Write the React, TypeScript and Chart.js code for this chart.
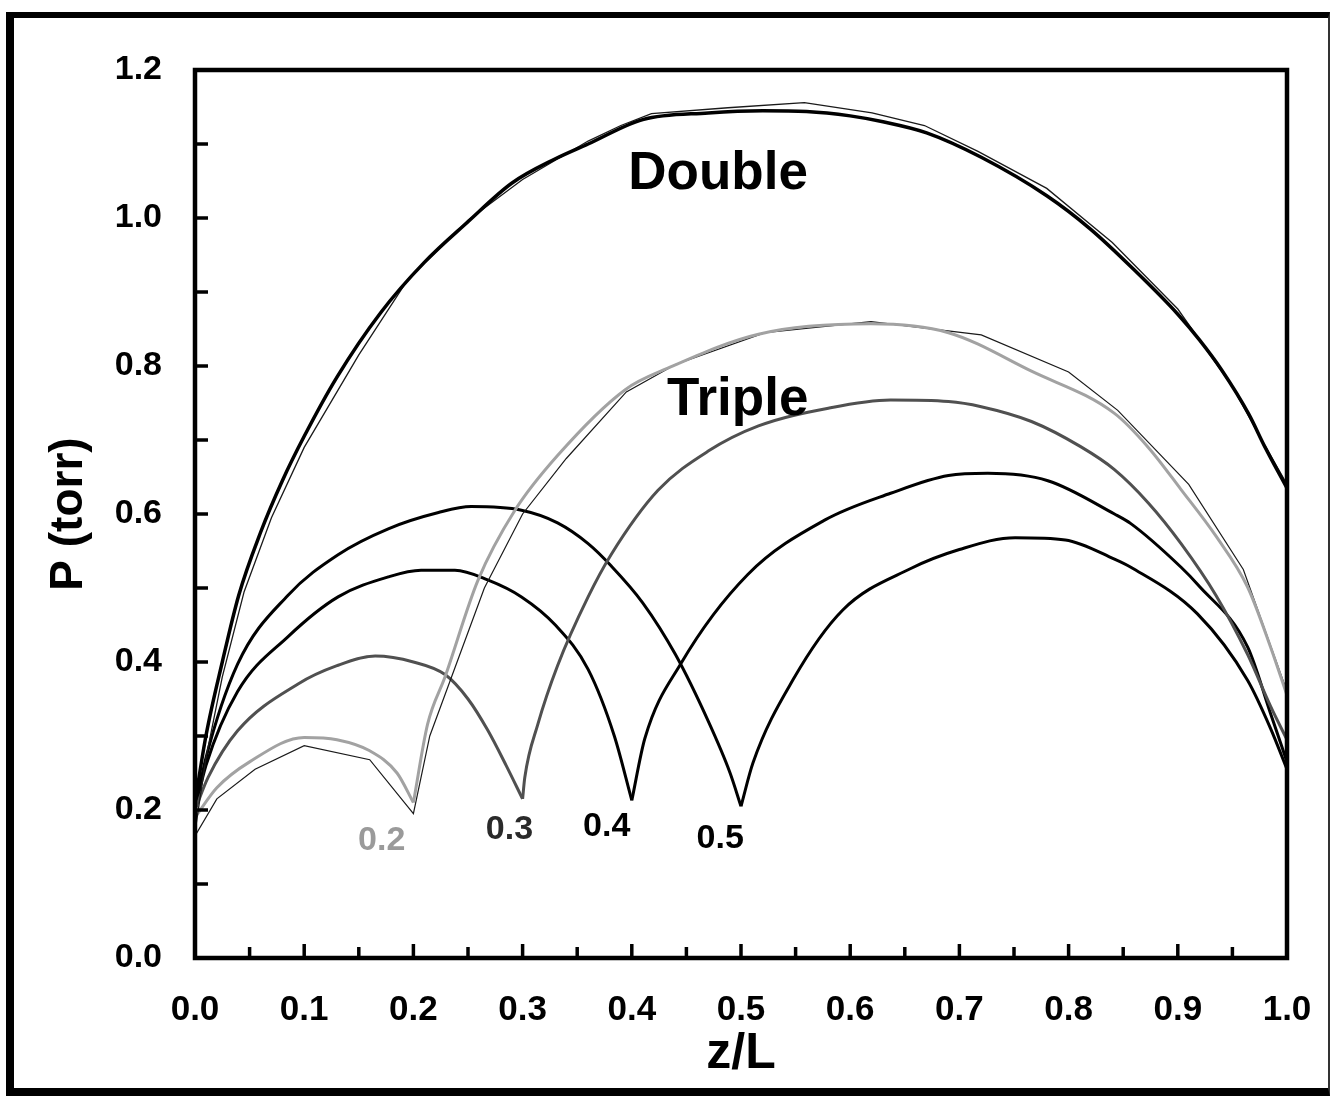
import React, { useEffect, useRef } from "react";
import { Chart, registerables } from "chart.js";

Chart.register(...registerables);

// ---------- data (z/L, P in torr) ----------
const doubleThickZ = [0, 0.01, 0.025, 0.04, 0.06, 0.08, 0.1, 0.13, 0.17, 0.21, 0.25, 0.29, 0.33, 0.36, 0.41, 0.47, 0.52, 0.56, 0.6, 0.63, 0.67, 0.72, 0.78, 0.82, 0.86, 0.9, 0.92, 0.94, 0.965, 0.98, 1.0];
const doubleThickP = [0.21, 0.3, 0.4, 0.49, 0.575, 0.645, 0.705, 0.785, 0.872, 0.94, 0.995, 1.047, 1.08, 1.1, 1.133, 1.142, 1.145, 1.144, 1.138, 1.13, 1.115, 1.082, 1.03, 0.985, 0.93, 0.87, 0.835, 0.795, 0.735, 0.69, 0.635];

const doubleThinZ = [0, 0.01, 0.025, 0.045, 0.07, 0.1, 0.15, 0.195, 0.25, 0.3, 0.36, 0.39, 0.418, 0.488, 0.558, 0.62, 0.668, 0.717, 0.78, 0.84, 0.9, 0.95, 0.975, 1.0];
const doubleThinP = [0.17, 0.27, 0.38, 0.495, 0.595, 0.69, 0.815, 0.917, 0.997, 1.052, 1.104, 1.125, 1.141, 1.149, 1.156, 1.142, 1.125, 1.09, 1.04, 0.967, 0.877, 0.772, 0.705, 0.64];

// split at 0.2 (Triple) - grey and thin black
const s02aZ = [0, 0.02, 0.05, 0.1, 0.13, 0.16, 0.185, 0.2];
const s02aP = [0.19, 0.23, 0.265, 0.298, 0.295, 0.28, 0.25, 0.21];
const s02bZ = [0.2, 0.213, 0.229, 0.259, 0.293, 0.332, 0.394, 0.433, 0.516, 0.619, 0.69, 0.766, 0.842, 0.873, 0.903, 0.935, 0.964, 0.985, 1.0];
const s02bP = [0.21, 0.316, 0.38, 0.51, 0.605, 0.679, 0.768, 0.797, 0.843, 0.857, 0.845, 0.793, 0.736, 0.69, 0.633, 0.57, 0.501, 0.42, 0.355];
const s02thinZ = [0, 0.02, 0.055, 0.1, 0.16, 0.2, 0.215, 0.235, 0.265, 0.3, 0.34, 0.395, 0.44, 0.522, 0.619, 0.72, 0.8, 0.845, 0.91, 0.96, 1.0];
const s02thinP = [0.165, 0.215, 0.255, 0.287, 0.268, 0.195, 0.3, 0.38, 0.5, 0.6, 0.675, 0.765, 0.802, 0.845, 0.86, 0.842, 0.792, 0.74, 0.64, 0.525, 0.36];

// split at 0.3
const s03aZ = [0, 0.012, 0.039, 0.094, 0.13, 0.165, 0.2, 0.229, 0.25, 0.268, 0.285, 0.3];
const s03aP = [0.2, 0.244, 0.307, 0.37, 0.395, 0.408, 0.4, 0.383, 0.35, 0.308, 0.26, 0.215];
const s03bZ = [0.3, 0.302, 0.314, 0.332, 0.36, 0.381, 0.424, 0.47, 0.516, 0.58, 0.637, 0.69, 0.72, 0.766, 0.811, 0.842, 0.873, 0.903, 0.935, 0.964, 0.985, 1.0];
const s03bP = [0.215, 0.244, 0.316, 0.395, 0.488, 0.545, 0.632, 0.685, 0.719, 0.743, 0.754, 0.752, 0.745, 0.725, 0.691, 0.66, 0.615, 0.56, 0.49, 0.41, 0.34, 0.295];

// split at 0.4
const s04aZ = [0, 0.01, 0.039, 0.085, 0.131, 0.177, 0.207, 0.238, 0.268, 0.299, 0.33, 0.36, 0.384, 0.4];
const s04aP = [0.2, 0.26, 0.36, 0.434, 0.488, 0.515, 0.524, 0.524, 0.511, 0.488, 0.45, 0.39, 0.3, 0.213];
const s04bZ = [0.4, 0.412, 0.445, 0.506, 0.577, 0.637, 0.69, 0.726, 0.781, 0.842, 0.857, 0.903, 0.918, 0.964, 0.985, 1.0];
const s04bP = [0.213, 0.297, 0.398, 0.518, 0.592, 0.628, 0.652, 0.655, 0.645, 0.6, 0.587, 0.528, 0.505, 0.42, 0.33, 0.265];

// split at 0.5
const s05aZ = [0, 0.01, 0.039, 0.085, 0.131, 0.177, 0.223, 0.253, 0.299, 0.332, 0.36, 0.381, 0.41, 0.44, 0.47, 0.49, 0.5];
const s05aP = [0.2, 0.27, 0.397, 0.49, 0.545, 0.58, 0.602, 0.61, 0.605, 0.588, 0.56, 0.53, 0.48, 0.41, 0.32, 0.25, 0.205];
const s05bZ = [0.5, 0.511, 0.548, 0.593, 0.655, 0.7, 0.751, 0.797, 0.842, 0.857, 0.918, 0.964, 0.985, 1.0];
const s05bP = [0.205, 0.264, 0.377, 0.47, 0.526, 0.552, 0.568, 0.565, 0.539, 0.528, 0.465, 0.375, 0.31, 0.255];

// axis tick values
const xTickMarks = [0.05, 0.1, 0.15, 0.2, 0.25, 0.3, 0.35, 0.4, 0.45, 0.5, 0.55, 0.6, 0.65, 0.7, 0.75, 0.8, 0.85, 0.9, 0.95];
const yTickMarks = [0.1, 0.2, 0.3, 0.4, 0.5, 0.6, 0.7, 0.8, 0.9, 1.0, 1.1];

// annotations (data coordinates)
const noteText = ["Double", "Triple", "0.2", "0.3", "0.4", "0.5"];
const noteZ = [0.479, 0.497, 0.171, 0.288, 0.377, 0.481];
const noteP = [1.059, 0.753, 0.158, 0.173, 0.178, 0.161];

const FONT = '"Liberation Sans", Arial, Helvetica, sans-serif';

function pts(z: number[], p: number[]) {
  return z.map((v, i) => ({ x: v, y: p[i] }));
}

export default function App() {
  const ref = useRef<HTMLCanvasElement | null>(null);

  useEffect(() => {
    if (!ref.current) return;

    const smooth = (z: number[], p: number[], color: string, width: number) => ({
      data: pts(z, p),
      borderColor: color,
      borderWidth: width,
      pointRadius: 0,
      fill: false,
      cubicInterpolationMode: "monotone" as const,
    });
    const poly = (z: number[], p: number[], color: string, width: number) => ({
      data: pts(z, p),
      borderColor: color,
      borderWidth: width,
      pointRadius: 0,
      fill: false,
      tension: 0,
    });

    const noteColor = ["#000", "#000", "#9a9a9a", "#2a2a2a", "#000", "#000"];
    const noteSize = [53, 53, 34, 34, 34, 34];

    const axesPlugin = {
      id: "axesBox",
      afterDatasetsDraw(chart: any) {
        const { ctx, chartArea: a, scales } = chart;
        const x = scales.x;
        const y = scales.y;
        ctx.save();
        ctx.strokeStyle = "#000";
        ctx.lineWidth = 4.5;
        ctx.strokeRect(a.left, a.top, a.right - a.left, a.bottom - a.top);
        ctx.lineWidth = 3.5;
        xTickMarks.forEach((v, i) => {
          const px = x.getPixelForValue(v);
          const len = i % 2 === 1 ? 14 : 11;
          ctx.beginPath();
          ctx.moveTo(px, a.bottom);
          ctx.lineTo(px, a.bottom - len);
          ctx.stroke();
        });
        yTickMarks.forEach((v) => {
          const py = y.getPixelForValue(v);
          ctx.beginPath();
          ctx.moveTo(a.left, py);
          ctx.lineTo(a.left + 13, py);
          ctx.stroke();
        });
        ctx.textAlign = "center";
        ctx.textBaseline = "middle";
        noteText.forEach((t, i) => {
          ctx.font = `bold ${noteSize[i]}px ${FONT}`;
          ctx.fillStyle = noteColor[i];
          ctx.fillText(t, x.getPixelForValue(noteZ[i]), y.getPixelForValue(noteP[i]));
        });
        ctx.restore();
      },
    };

    const chart = new Chart(ref.current, {
      type: "line",
      data: {
        datasets: [
          smooth(doubleThickZ, doubleThickP, "#000", 3.5),
          poly(doubleThinZ, doubleThinP, "#1a1a1a", 1.3),
          smooth(s02aZ, s02aP, "#a2a2a2", 3),
          smooth(s02bZ, s02bP, "#a2a2a2", 3),
          poly(s02thinZ, s02thinP, "#1a1a1a", 1.2),
          smooth(s03aZ, s03aP, "#505050", 3),
          smooth(s03bZ, s03bP, "#505050", 3),
          smooth(s04aZ, s04aP, "#000", 3),
          smooth(s04bZ, s04bP, "#000", 3),
          smooth(s05aZ, s05aP, "#000", 3),
          smooth(s05bZ, s05bP, "#000", 3),
        ] as any,
      },
      options: {
        responsive: false,
        maintainAspectRatio: false,
        animation: false,
        devicePixelRatio: 1,
        layout: { padding: { top: 70, right: 45, left: 0, bottom: 0 } },
        plugins: {
          legend: { display: false },
          tooltip: { enabled: false },
        },
        scales: {
          x: {
            type: "linear",
            min: 0,
            max: 1,
            afterFit: (s: any) => {
              s.height = 138;
              s.paddingLeft = 0;
              s.paddingRight = 0;
            },
            grid: { display: false, drawTicks: false },
            border: { display: false },
            ticks: {
              stepSize: 0.1,
              autoSkip: false,
              maxRotation: 0,
              padding: 31,
              color: "#000",
              font: { family: FONT, size: 35, weight: "bold" },
              callback: (v: any) => Number(v).toFixed(1),
            },
            title: {
              display: true,
              text: "z/L",
              color: "#000",
              font: { family: FONT, size: 50, weight: "bold" },
              padding: { top: 0, bottom: 12 },
            },
          },
          y: {
            type: "linear",
            min: 0,
            max: 1.2,
            afterFit: (s: any) => {
              s.width = 195;
              s.paddingTop = 0;
              s.paddingBottom = 0;
            },
            grid: { display: false, drawTicks: false },
            border: { display: false },
            ticks: {
              stepSize: 0.2,
              autoSkip: false,
              padding: 33,
              color: "#000",
              font: { family: FONT, size: 34, weight: "bold" },
              callback: (v: any) => Number(v).toFixed(1),
            },
            title: {
              display: true,
              text: "P (torr)",
              color: "#000",
              font: { family: FONT, size: 46, weight: "bold" },
              padding: { top: 42, bottom: 0 },
            },
          },
        },
      } as any,
      plugins: [axesPlugin],
    });

    return () => chart.destroy();
  }, []);

  return (
    <div
      style={{
        position: "absolute",
        left: 0,
        top: 0,
        width: 1332,
        height: 1096,
        background: "#fff",
        overflow: "hidden",
      }}
    >
      <canvas ref={ref} width={1332} height={1096} style={{ position: "absolute", left: 0, top: 0 }} />
      <div
        style={{
          position: "absolute",
          left: 6,
          top: 12,
          width: 1324,
          height: 1084,
          boxSizing: "border-box",
          borderTop: "6px solid #000",
          borderLeft: "8px solid #000",
          borderRight: "2px solid #333",
          borderBottom: "8px solid #000",
          pointerEvents: "none",
        }}
      />
    </div>
  );
}
